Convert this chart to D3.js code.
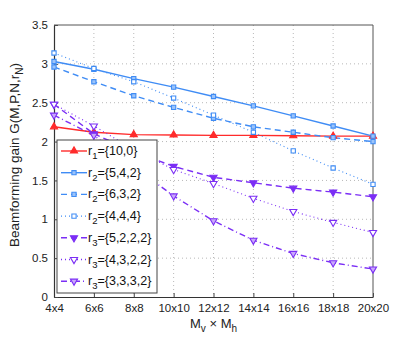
<!DOCTYPE html>
<html>
<head>
<meta charset="utf-8">
<script src="https://cdn.jsdelivr.net/npm/d3@7"></script>
<style>
  body { margin: 0; background: #fff; }
  text { font-family: "Liberation Sans", Arial, sans-serif; }
  .grid line { stroke: #b8b8b8; stroke-dasharray: 1,3; }
</style>
</head>
<body>
<svg id="chart" width="412" height="338"></svg>
<script>
var sizes = ["4x4", "6x6", "8x8", "10x10", "12x12", "14x14", "16x16", "18x18", "20x20"];
var yTicks = [0, 0.5, 1, 1.5, 2, 2.5, 3, 3.5];

// gain values
var r1_10_0    = [2.19, 2.12, 2.09, 2.085, 2.08, 2.08, 2.075, 2.07, 2.07];
var r2_5_4_2   = [3.03, 2.93, 2.81, 2.70, 2.58, 2.46, 2.33, 2.20, 2.07];
var r2_6_3_2   = [2.96, 2.77, 2.59, 2.44, 2.30, 2.19, 2.12, 2.05, 2.00];
var r2_4_4_4   = [3.14, 2.94, 2.77, 2.56, 2.34, 2.12, 1.88, 1.66, 1.45];
var r3_5_2_2_2 = [2.48, 2.10, 1.87, 1.68, 1.54, 1.47, 1.40, 1.35, 1.29];
var r3_4_3_2_2 = [2.48, 2.20, 1.90, 1.64, 1.46, 1.27, 1.10, 0.96, 0.83];
var r3_3_3_3_2 = [2.34, 2.08, 1.68, 1.30, 0.98, 0.73, 0.56, 0.44, 0.36];

var red = "#ff2b2b", blue = "#3f8cf5", purple = "#7b2ef5";

var series = [
  {name: "r", sub: "1", set: "={10,0}",     values: r1_10_0,    color: red,    dash: null,       marker: "up",  fill: red},
  {name: "r", sub: "2", set: "={5,4,2}",    values: r2_5_4_2,   color: blue,   dash: null,       marker: "sq",  fill: "#9cc4fa"},
  {name: "r", sub: "2", set: "={6,3,2}",    values: r2_6_3_2,   color: blue,   dash: "6,4",      marker: "sq",  fill: "#9cc4fa"},
  {name: "r", sub: "2", set: "={4,4,4}",    values: r2_4_4_4,   color: blue,   dash: "1,3",      marker: "sq",  fill: "#fff"},
  {name: "r", sub: "3", set: "={5,2,2,2}",  values: r3_5_2_2_2, color: purple, dash: "6,4",      marker: "dn",  fill: purple},
  {name: "r", sub: "3", set: "={4,3,2,2}",  values: r3_4_3_2_2, color: purple, dash: "1,3",      marker: "dn",  fill: "#fff"},
  {name: "r", sub: "3", set: "={3,3,3,2}",  values: r3_3_3_3_2, color: purple, dash: "6,3,1,3",  marker: "dn",  fill: "#c9a8fb"}
];

var margin = {top: 25, right: 39, bottom: 41, left: 54},
    width = 412 - margin.left - margin.right,
    height = 338 - margin.top - margin.bottom;

var x = d3.scalePoint().domain(sizes).range([0, width]).padding(0),
    y = d3.scaleLinear().domain([0, 3.5]).range([height, 0]);

var svg = d3.select("#chart")
  .append("g")
    .attr("transform", "translate(" + margin.left + "," + margin.top + ")");

// grid
svg.append("g")
    .attr("class", "grid")
  .selectAll("line.v")
    .data(sizes.slice(1, -1))
  .enter().append("line")
    .attr("x1", function(d) { return x(d); })
    .attr("x2", function(d) { return x(d); })
    .attr("y1", 0).attr("y2", height);

svg.append("g")
    .attr("class", "grid")
  .selectAll("line.h")
    .data(yTicks.slice(1, -1))
  .enter().append("line")
    .attr("x1", 0).attr("x2", width)
    .attr("y1", function(d) { return y(d); })
    .attr("y2", function(d) { return y(d); });

// axes
var xAxis = svg.append("g")
    .attr("transform", "translate(0," + height + ")")
    .call(d3.axisBottom(x).tickSizeInner(-4).tickSizeOuter(0).tickPadding(7));
var yAxis = svg.append("g")
    .call(d3.axisLeft(y).tickValues(yTicks).tickSizeInner(-4).tickSizeOuter(0).tickPadding(6)
      .tickFormat(function(d) { return String(d); }));

[xAxis, yAxis].forEach(function(a) {
  a.selectAll("text").style("font-size", "11.5px").attr("fill", "#222");
  a.selectAll("line").attr("stroke", "#444");
  a.select(".domain").attr("stroke", "#333").attr("stroke-width", 1.2);
});

// box top/right
svg.append("path")
    .attr("d", "M0,0H" + width + "V" + height)
    .attr("fill", "none")
    .attr("stroke", "#555")
    .attr("stroke-width", 1);

var sym = {
  up: d3.symbol().type(d3.symbolTriangle).size(22),
  sq: d3.symbol().type(d3.symbolSquare).size(18),
  dn: d3.symbol().type(d3.symbolTriangle).size(22)
};

function drawMarker(sel, s) {
  sel.append("path")
      .attr("d", sym[s.marker]())
      .attr("transform", function() {
        return s.marker === "dn" ? "rotate(180)" : null;
      })
      .attr("fill", s.fill)
      .attr("stroke", s.color)
      .attr("stroke-width", 1.1);
}

var line = d3.line()
    .x(function(d, i) { return x(sizes[i]); })
    .y(function(d) { return y(d); });

series.forEach(function(s) {
  svg.append("path")
      .datum(s.values)
      .attr("d", line)
      .attr("fill", "none")
      .attr("stroke", s.color)
      .attr("stroke-width", s.dash === "1,3" ? 1.1 : 1.4)
      .attr("stroke-dasharray", s.dash);
});

series.forEach(function(s) {
  svg.selectAll(null)
      .data(s.values)
    .enter().append("g")
      .attr("transform", function(d, i) { return "translate(" + x(sizes[i]) + "," + y(d) + ")"; })
      .each(function() { drawMarker(d3.select(this), s); });
});

// legend
var legend = svg.append("g")
    .attr("transform", "translate(3,115)");

legend.append("rect")
    .attr("width", 100)
    .attr("height", 153)
    .attr("fill", "#fff")
    .attr("stroke", "#444")
    .attr("stroke-width", 1);

var item = legend.selectAll(".item")
    .data(series)
  .enter().append("g")
    .attr("class", "item")
    .attr("transform", function(d, i) { return "translate(0," + (11 + i * 21.7) + ")"; });

item.append("line")
    .attr("x1", 4).attr("x2", 30)
    .attr("stroke", function(d) { return d.color; })
    .attr("stroke-width", 1.4)
    .attr("stroke-dasharray", function(d) { return d.dash; });

item.append("g")
    .attr("transform", "translate(17,0)")
    .each(function(d) { drawMarker(d3.select(this), d); });

var lt = item.append("text")
    .attr("x", 31)
    .attr("y", 4)
    .style("font-size", "12.5px")
    .attr("fill", "#111");
lt.append("tspan").text(function(d) { return d.name; });
lt.append("tspan").attr("dy", 4).style("font-size", "9.5px").text(function(d) { return d.sub; });
lt.append("tspan").attr("dy", -4).text(function(d) { return d.set; });

// axis labels
var xl = svg.append("text")
    .attr("x", width / 2)
    .attr("y", height + 31)
    .attr("text-anchor", "middle")
    .style("font-size", "13px")
    .attr("fill", "#222");
xl.append("tspan").text("M");
xl.append("tspan").attr("dy", 4).style("font-size", "10px").text("v");
xl.append("tspan").attr("dy", -4).text(" \u00d7 M");
xl.append("tspan").attr("dy", 4).style("font-size", "10px").text("h");

var yl = svg.append("text")
    .attr("transform", "translate(-35," + (height / 2 - 6) + ") rotate(-90)")
    .attr("text-anchor", "middle")
    .style("font-size", "13.5px")
    .attr("fill", "#222");
yl.append("tspan").text("Beamforming gain G(M,P,N,r");
yl.append("tspan").attr("dy", 4).style("font-size", "10px").text("N");
yl.append("tspan").attr("dy", -4).text(")");
</script>
</body>
</html>
